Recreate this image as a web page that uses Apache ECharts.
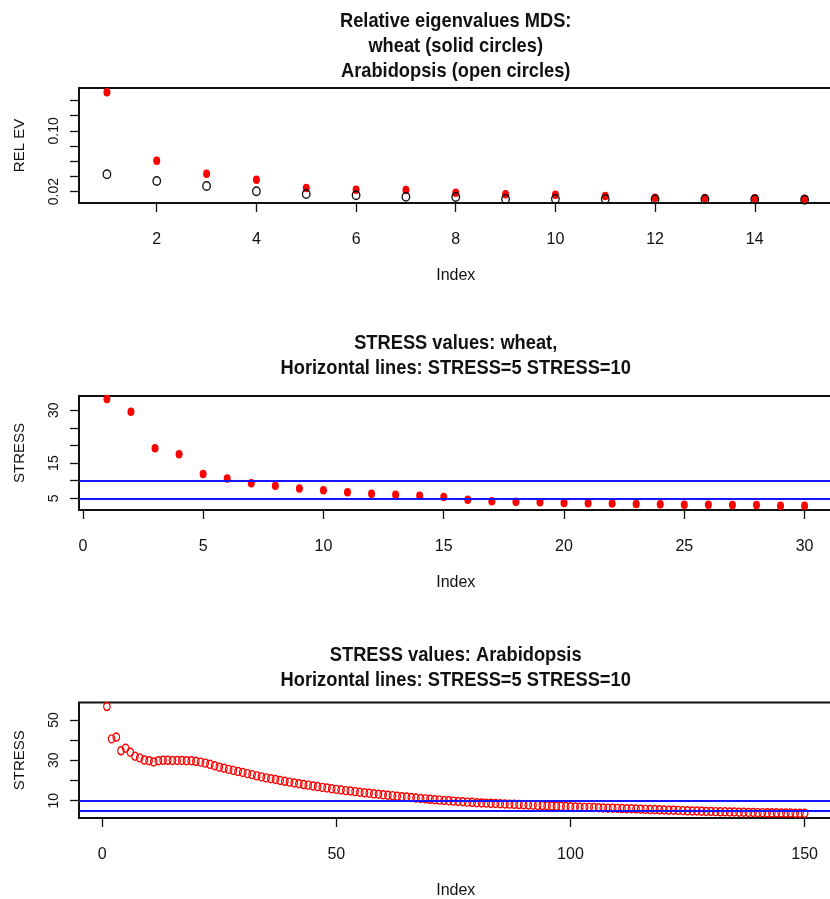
<!DOCTYPE html>
<html>
<head>
<meta charset="utf-8">
<script src="https://cdn.jsdelivr.net/npm/echarts@6/dist/echarts.min.js"></script>
<style>
html,body{margin:0;padding:0;background:#fff;}
#chart{width:830px;height:899px;}
</style>
</head>
<body>
<div id="chart"></div>
<script>
// ---- data ----
const wheatEV = [0.1508, 0.0608, 0.0437, 0.0358, 0.0249, 0.0226, 0.0222, 0.0187, 0.0166, 0.0161, 0.0143, 0.0121, 0.0117, 0.0113, 0.0108];
const arabEV  = [0.0429, 0.0341, 0.0275, 0.0205, 0.0170, 0.0153, 0.0134, 0.0130, 0.0104, 0.0104, 0.0104, 0.0100, 0.0100, 0.0100, 0.0095];
const wheatStress = [33.2, 29.6, 19.2, 17.5, 11.9, 10.6, 9.3, 8.6, 7.8, 7.3, 6.7, 6.3, 6.0, 5.7, 5.4,
  4.6, 4.2, 4.0, 3.9, 3.7, 3.6, 3.5, 3.4, 3.3, 3.2, 3.2, 3.1, 3.1, 2.9, 2.9];
const arabStress = [56.6, 40.6, 41.5, 34.7, 36.0, 34.0, 32.0, 31.2, 30.1, 29.8,
  29.2, 29.8, 30.0, 30.0, 29.9, 29.9, 29.9, 29.8, 29.8, 29.5,
  29.1, 28.6, 28.0, 27.3, 26.6, 26.1, 25.5, 25.0, 24.5, 24.0,
  23.4, 22.9, 22.3, 21.8, 21.3, 20.9, 20.5, 20.0, 19.6, 19.2,
  18.8, 18.4, 18.0, 17.7, 17.3, 17.0, 16.6, 16.3, 15.9, 15.6,
  15.3, 15.0, 14.8, 14.5, 14.2, 13.9, 13.7, 13.4, 13.2, 12.9,
  12.7, 12.5, 12.2, 12.0, 11.8, 11.6, 11.3, 11.1, 10.9, 10.7,
  10.5, 10.3, 10.1, 10.0, 9.8, 9.6, 9.5, 9.3, 9.2, 9.0,
  8.9, 8.8, 8.7, 8.6, 8.5, 8.4, 8.3, 8.2, 8.1, 8.0,
  7.9, 7.8, 7.7, 7.6, 7.5, 7.4, 7.3, 7.2, 7.1, 7.0,
  6.9, 6.8, 6.7, 6.7, 6.6, 6.5, 6.4, 6.3, 6.3, 6.2,
  6.1, 6.0, 6.0, 5.9, 5.8, 5.7, 5.6, 5.6, 5.5, 5.4,
  5.3, 5.3, 5.2, 5.1, 5.0, 4.9, 4.9, 4.8, 4.7, 4.7,
  4.6, 4.5, 4.5, 4.4, 4.4, 4.3, 4.3, 4.2, 4.2, 4.1,
  4.1, 4.0, 4.0, 4.0, 3.9, 3.9, 3.9, 3.8, 3.8, 3.8];
const stressLines = [5, 10];

// tick values / labels
const xTicksTop = [2, 4, 6, 8, 10, 12, 14];
const xTicksMid = [0, 5, 10, 15, 20, 25, 30];
const xTicksBot = [0, 50, 100, 150];
const yTicksTop = [0.02, 0.04, 0.06, 0.08, 0.10, 0.12, 0.14];
const yLabelsTop = [0.02, 0.10];
const yTicksMid = [5, 10, 15, 20, 25, 30];
const yLabelsMid = [5, 15, 30];
const yTicksBot = [10, 20, 30, 40, 50];
const yLabelsBot = [10, 30, 50];

const titles = [
  'Relative eigenvalues MDS:\nwheat (solid circles)\nArabidopsis (open circles)',
  'STRESS values: wheat,\nHorizontal lines: STRESS=5 STRESS=10',
  'STRESS values: Arabidopsis\nHorizontal lines: STRESS=5 STRESS=10'
];

// ---- chart ----
const SANS = "'Liberation Sans', Arial, sans-serif";
const toXY = arr => arr.map((v, i) => [i + 1, v]);

const GL = 79, GW = 753.5;
const grids = [
  {left: GL, width: GW, top: 88, height: 115},
  {left: GL, width: GW, top: 396, height: 114},
  {left: GL, width: GW, top: 702.5, height: 115.5}
].map(g => Object.assign(g, {show: true, borderColor: '#111', borderWidth: 2, containLabel: false, outerBoundsMode: 'none'}));

function xAxis(idx, min, max, ticks) {
  return {
    type: 'value', gridIndex: idx, min: min, max: max,
    name: 'Index', nameLocation: 'middle', nameGap: 65,
    nameTextStyle: {fontFamily: SANS, fontSize: 16, color: '#111'},
    axisLine: {show: false, onZero: false},
    splitLine: {show: false},
    axisTick: {show: true, length: 9, customValues: ticks, lineStyle: {color: '#111', width: 1.3}},
    axisLabel: {show: true, margin: 29, customValues: ticks, fontFamily: SANS, fontSize: 16, color: '#111'}
  };
}
function yAxis(idx, min, max, ticks, labels, name, fmt) {
  return {
    type: 'value', gridIndex: idx, min: min, max: max,
    name: name, nameLocation: 'middle', nameGap: 52, nameRotate: 90,
    nameTextStyle: {fontFamily: SANS, fontSize: 15, color: '#111'},
    axisLine: {show: false, onZero: false},
    splitLine: {show: false},
    axisTick: {show: true, length: 9, customValues: ticks, lineStyle: {color: '#111', width: 1.3}},
    axisLabel: {show: true, rotate: 90, margin: 18, customValues: labels, fontFamily: SANS, fontSize: 14, color: '#111',
      formatter: fmt}
  };
}

const titleGraphics = [8.5, 331, 643].map((top, i) => ({
  type: 'text', x: 455.7, y: top, scaleX: 0.87, silent: true,
  style: {
    text: titles[i], textAlign: 'center', textVerticalAlign: 'top',
    fontFamily: SANS, fontWeight: 'bold', fontSize: 21, lineHeight: 25, fill: '#111'
  }
}));

const option = {
  animation: false,
  backgroundColor: '#fff',
  graphic: titleGraphics,
  grid: grids,
  xAxis: [
    xAxis(0, 0.44, 15.56, xTicksTop),
    xAxis(1, -0.16, 31.16, xTicksMid),
    xAxis(2, -4.96, 155.96, xTicksBot)
  ],
  yAxis: [
    yAxis(0, 0.0051, 0.1564, yTicksTop, yLabelsTop, 'REL EV', v => v.toFixed(2)),
    yAxis(1, 1.68, 34.06, yTicksMid, yLabelsMid, 'STRESS', v => String(v)),
    yAxis(2, 1.44, 58.6, yTicksBot, yLabelsBot, 'STRESS', v => String(v))
  ],
  series: [
    {
      name: 'wheat', type: 'scatter', xAxisIndex: 0, yAxisIndex: 0,
      data: toXY(wheatEV), symbol: 'circle', symbolSize: [7, 8.5],
      itemStyle: {color: '#ff0000', opacity: 1}, z: 2
    },
    {
      name: 'Arabidopsis', type: 'scatter', xAxisIndex: 0, yAxisIndex: 0,
      data: toXY(arabEV), symbol: 'circle', symbolSize: [7.5, 8.5],
      itemStyle: {color: 'rgba(0,0,0,0)', borderColor: '#111', borderWidth: 1.4, opacity: 1}, z: 3
    },
    {
      name: 'wheat STRESS', type: 'scatter', xAxisIndex: 1, yAxisIndex: 1,
      data: toXY(wheatStress), symbol: 'circle', symbolSize: [7, 8.5],
      itemStyle: {color: '#ff0000', opacity: 1},
      markLine: {
        silent: true, symbol: ['none', 'none'], label: {show: false},
        lineStyle: {color: '#1414ff', width: 2, type: 'solid'},
        data: stressLines.map(v => ({yAxis: v}))
      }
    },
    {
      name: 'Arabidopsis STRESS', type: 'scatter', xAxisIndex: 2, yAxisIndex: 2,
      data: toXY(arabStress), symbol: 'circle', symbolSize: [6.5, 8],
      itemStyle: {color: 'rgba(0,0,0,0)', borderColor: '#ff0000', borderWidth: 1.3, opacity: 1},
      markLine: {
        silent: true, symbol: ['none', 'none'], label: {show: false},
        lineStyle: {color: '#1414ff', width: 2, type: 'solid'},
        data: stressLines.map(v => ({yAxis: v}))
      }
    }
  ]
};

const chart = echarts.init(document.getElementById('chart'), null, {renderer: 'canvas'});
chart.setOption(option);
</script>
</body>
</html>
